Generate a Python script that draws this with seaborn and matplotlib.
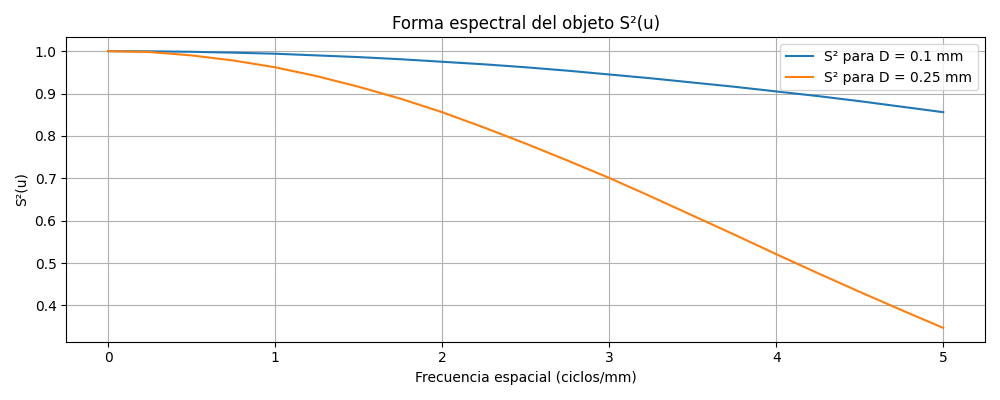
import numpy as np
import pandas as pd
import matplotlib
matplotlib.use("Agg")
import matplotlib.pyplot as plt
import seaborn as sns

# values
u = [0.0, 0.25, 0.5, 0.75, 1.0, 1.25, 1.5, 1.75, 2.0, 2.25, 2.5,
     2.75, 3.0, 3.25, 3.5, 3.75, 4.0, 4.25, 4.5, 4.75, 5.0]
s2_d010 = [1.000, 0.9996, 0.9985, 0.9965, 0.994, 0.990, 0.986, 0.981, 0.975, 0.969, 0.962,
           0.954, 0.945, 0.936, 0.926, 0.916, 0.905, 0.894, 0.882, 0.869, 0.856]
s2_d025 = [1.000, 0.998, 0.990, 0.978, 0.962, 0.941, 0.916, 0.888, 0.856, 0.820, 0.782,
           0.742, 0.701, 0.657, 0.612, 0.567, 0.521, 0.476, 0.432, 0.389, 0.347]
series_labels = ["S² para D = 0.1 mm", "S² para D = 0.25 mm"]

df = pd.concat([
    pd.DataFrame({"u": u, "S2": s2_d010, "serie": series_labels[0]}),
    pd.DataFrame({"u": u, "S2": s2_d025, "serie": series_labels[1]}),
])

fig, ax = plt.subplots(figsize=(10, 4), dpi=100)
sns.lineplot(data=df, x="u", y="S2", hue="serie", hue_order=series_labels,
             palette=["#1f77b4", "#ff7f0e"], linewidth=1.5, ax=ax)
ax.set_title("Forma espectral del objeto S²(u)")
ax.set_xlabel("Frecuencia espacial (ciclos/mm)")
ax.set_ylabel("S²(u)")
ax.grid(True)
ax.legend(loc="upper right", title=None)
plt.tight_layout()
plt.savefig("out.png", dpi=100)
